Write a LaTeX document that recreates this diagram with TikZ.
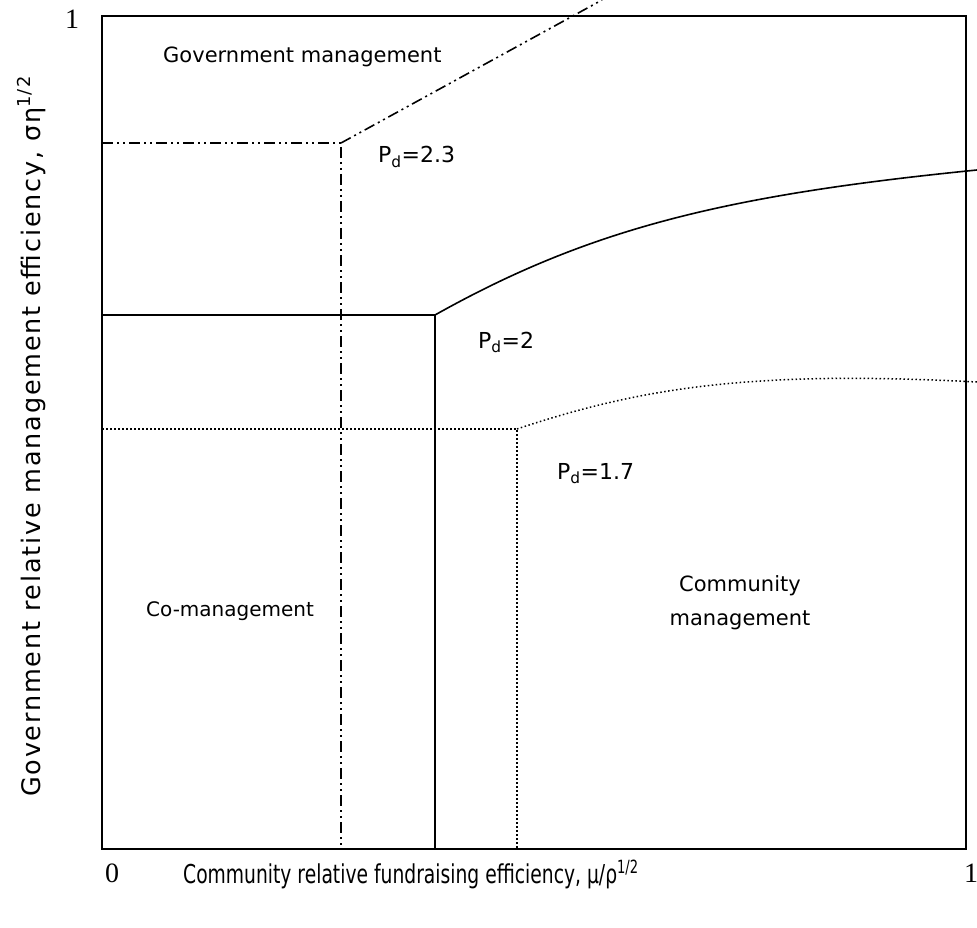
\documentclass[tikz,border=0pt]{standalone}
\usepackage{fontspec}
\setmainfont{DejaVu Sans}
\newfontfamily\numfont{Liberation Serif}
\newfontfamily\narrowfont[FakeStretch=0.72]{DejaVu Sans}
\newfontfamily\wideletters[LetterSpace=7]{DejaVu Sans}

\begin{document}
\begin{tikzpicture}[x=1pt, y=-1pt,
    frame/.style={line width=2.2pt},
    regime/.style={line width=1.6pt},
    ddot/.style={regime, dash pattern=on 11pt off 4pt on 2pt off 4pt on 2pt off 4pt},
    fine/.style={line width=1.5pt, dash pattern=on 1.5pt off 2.5pt},
    lbl/.style={font=\fontsize{21}{25}\selectfont, inner sep=0pt},
    tick/.style={font=\numfont\fontsize{28}{30}\selectfont, inner sep=0pt}]
\useasboundingbox (0,0) rectangle (977,928);

% corners of the diagram
\coordinate (O) at (102,849);
\coordinate (TR) at (966,16);

% P_d = 2.3
\coordinate (a1) at (102,143);
\coordinate (a2) at (341,143);
\coordinate (a3) at (341,849);
\coordinate (a4) at (602,0);

% P_d = 2
\coordinate (b1) at (102,315);
\coordinate (b2) at (435,315);
\coordinate (b3) at (435,849);
\coordinate (b4) at (977,170);

% P_d = 1.7
\coordinate (c1) at (102,429);
\coordinate (c2) at (517,429);
\coordinate (c3) at (517,849);
\coordinate (c4) at (977,382);

\draw [ddot] (a1) -- (a2) -- (a3);
\draw [ddot] (a2) -- (a4);

\draw [regime] (b1) -- (b2) -- (b3);
\draw [regime] (b2) .. controls (590,228) and (727,195) .. (b4);

\draw [fine] (c1) -- (c2) -- (c3);
\draw [fine] (c2) .. controls (640,388) and (750,370) .. (c4);

\draw [frame] (O) rectangle (TR);

\node[lbl, anchor=base west] (govt) at (163,63) {Government management};
\node[lbl, anchor=base west, font=\fontsize{22}{25}\selectfont] (p23) at (378,163) {P\textsubscript{d}=2.3};
\node[lbl, anchor=base west, font=\fontsize{22}{25}\selectfont] (p2) at (478,348) {P\textsubscript{d}=2};
\node[lbl, anchor=base west, font=\fontsize{22}{25}\selectfont] (p17) at (557,479) {P\textsubscript{d}=1.7};
\node[lbl, anchor=base west, font=\fontsize{20}{25}\selectfont] (comgmt) at (146,616) {Co-management};
\node[lbl, align=center, font=\fontsize{21}{34}\selectfont] (commun) at (740,603) {Community\\management};

\node[tick] (zero) at (112,873) {0};
\node[tick] (onex) at (971,873) {1};
\node[tick] (oney) at (72,19) {1};

\node[inner sep=0pt, anchor=base west, font=\narrowfont\fontsize{26}{28}\selectfont] (xlab) at (183,883)
    {Community relative fundraising efficiency, μ/ρ\textsuperscript{1/2}};
\node[inner sep=0pt, rotate=90, anchor=base west, font=\wideletters\fontsize{25.5}{28}\selectfont] (ylab) at (40,797)
    {Government relative management efficiency, ση\textsuperscript{1/2}};
\end{tikzpicture}
\end{document}
